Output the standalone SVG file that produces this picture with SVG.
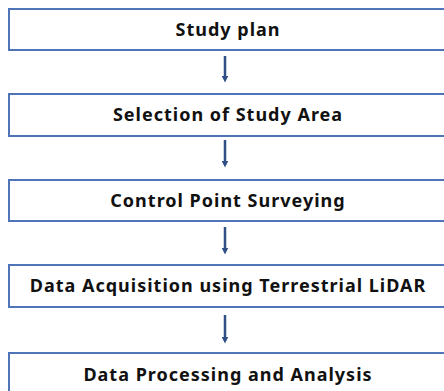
<svg xmlns="http://www.w3.org/2000/svg" width="444" height="391" viewBox="0 0 444 391">
<style>
.box{fill:#ffffff;stroke:#4f75b8;stroke-width:2}
.lbl{font-family:"Noto Sans","Open Sans",sans-serif;font-weight:bold;font-size:18px;letter-spacing:1px;fill:#111111;text-anchor:middle}
.arr{stroke:#2f4f86;stroke-width:2.5;fill:none}
</style>
<defs>
<marker id="ah" markerWidth="7" markerHeight="7" refX="2.5" refY="2.5" orient="auto" markerUnits="userSpaceOnUse" viewBox="0 0 5 5">
<path d="M0,0 L5,2.5 L0,5 Z" fill="#2f4f86"/>
</marker>
</defs>
<rect width="444" height="391" fill="#ffffff"/>
<g id="connectors">
<line class="arr" x1="225" y1="56" x2="225" y2="79" marker-end="url(#ah)"/>
<line class="arr" x1="225" y1="140" x2="225" y2="164" marker-end="url(#ah)"/>
<line class="arr" x1="225" y1="227" x2="225" y2="251" marker-end="url(#ah)"/>
<line class="arr" x1="225" y1="315" x2="225" y2="340" marker-end="url(#ah)"/>
</g>
<g id="n1"><rect class="box" x="9" y="9" width="440" height="41"/><text class="lbl" x="228" y="36">Study plan</text></g>
<g id="n2"><rect class="box" x="9" y="94" width="440" height="42"/><text class="lbl" x="228" y="121">Selection of Study Area</text></g>
<g id="n3"><rect class="box" x="9" y="180" width="440" height="41"/><text class="lbl" x="228" y="207">Control Point Surveying</text></g>
<g id="n4"><rect class="box" x="9" y="265" width="440" height="42"/><text class="lbl" x="228" y="292">Data Acquisition using Terrestrial LiDAR</text></g>
<g id="n5"><rect class="box" x="9" y="353" width="440" height="45"/><text class="lbl" x="228" y="381">Data Processing and Analysis</text></g>
</svg>
